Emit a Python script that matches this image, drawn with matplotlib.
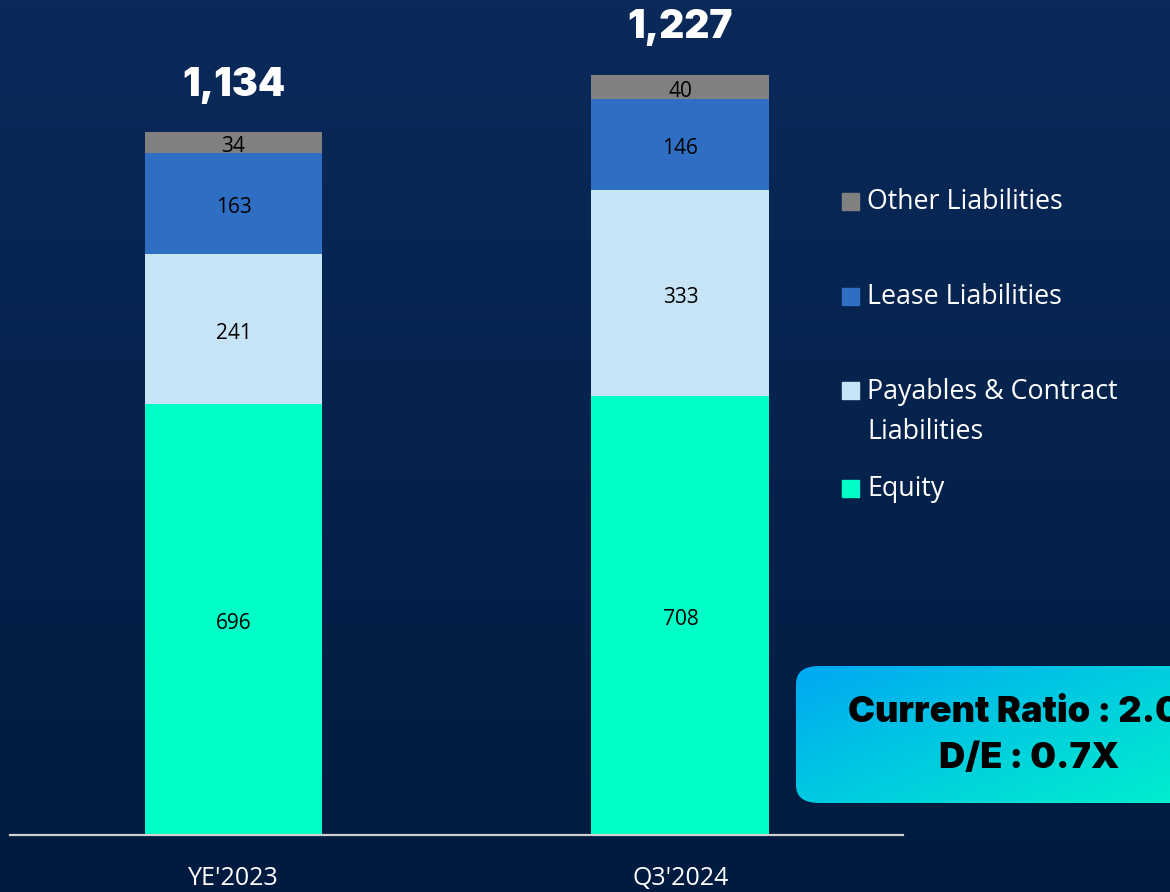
import numpy as np
import matplotlib
matplotlib.use("Agg")
import matplotlib.pyplot as plt
from matplotlib.patches import FancyBboxPatch, Rectangle
from matplotlib import font_manager as fm

categories = ["YE'2023", "Q3'2024"]
equity = [696, 708]
payables = [241, 333]
lease = [163, 146]
other = [34, 40]
totals = ["1,134", "1,227"]
legend_labels = ["Other Liabilities", "Lease Liabilities", "Payables & Contract\nLiabilities", "Equity"]
box_lines = ["Current Ratio : 2.0X", "D/E : 0.7X"]

colors = ["#00FFC6", "#C6E4F6", "#2F6FC3", "#808080"]

avail = {f.name for f in fm.fontManager.ttflist}
main_font = "Open Sans" if "Open Sans" in avail else "DejaVu Sans"
bold_font = "Inter" if "Inter" in avail else main_font

W, H = 1170, 892
fig = plt.figure(figsize=(W / 100, H / 100), dpi=100)

# background gradient
bg = fig.add_axes([0, 0, 1, 1], zorder=0)
bg.set_axis_off()
top = np.array([0x0B, 0x2A, 0x5A]) / 255
bot = np.array([0x00, 0x1B, 0x3F]) / 255
t = np.linspace(0, 1, 256)[:, None]
grad = top[None, :] * (1 - t) + bot[None, :] * t
grad = np.repeat(grad[:, None, :], 2, axis=1)
bg.imshow(grad, aspect="auto", extent=[0, 1, 0, 1], origin="upper")

ax = fig.add_axes([10 / W, (H - 835) / H, 893 / W, 835 / H], zorder=2)
ax.set_facecolor("none")
x = np.arange(len(categories))
width = 0.398
series = [equity, payables, lease, other]
bottom = np.zeros(len(categories))
for vals, col in zip(series, colors):
    vals = np.array(vals)
    ax.bar(x, vals, width, bottom=bottom, color=col, edgecolor="none", zorder=2)
    for xi, b, v in zip(x, bottom, vals):
        ax.text(xi, b + v / 2 - 6.5, f"{v}", ha="center", va="center", fontsize=15,
                family=main_font, color="black", zorder=3)
    bottom = bottom + vals

for xi, tot, lab in zip(x, bottom, totals):
    ax.text(xi, tot + 76, lab, ha="center", va="center", fontsize=28,
            family=bold_font, fontweight="black", color="white")

ax.set_xlim(-0.5, 1.498)
ax.set_ylim(0, 835 / 0.6197)
for s in ["top", "right", "left"]:
    ax.spines[s].set_visible(False)
ax.spines["bottom"].set_color("#D0D0D0")
ax.spines["bottom"].set_linewidth(1.6)
ax.set_yticks([])
ax.set_xticks(x)
ax.set_xticklabels(categories, fontsize=18, family=main_font, color="white")
ax.tick_params(axis="x", length=0, pad=22)

# legend (manual, in pixel positions)
leg_colors = [colors[3], colors[2], colors[1], colors[0]]
leg_y = [202, 297, 412, 489]
for label, col, ypix in zip(legend_labels, leg_colors, leg_y):
    sq_y = ypix if "\n" not in label else 391
    fig.patches.append(Rectangle((842 / W, (H - sq_y - 8) / H), 17 / W, 17 / H,
                                 transform=fig.transFigure, color=col, zorder=3))
    fig.text(867 / W, (H - ypix) / H, label, ha="left", va="center", fontsize=19.3,
             family=main_font, color="white", linespacing=1.6, zorder=3)

# gradient callout box
bx0, by0, bx1, by1 = 796, 666, 1290, 803
box = FancyBboxPatch((bx0 / W, (H - by1) / H), (bx1 - bx0) / W, (by1 - by0) / H,
                     boxstyle="round,pad=0,rounding_size=0.02",
                     transform=fig.transFigure, facecolor="none", edgecolor="none",
                     zorder=4)
fig.patches.append(box)
gx = np.linspace(0, 1, 200)[None, :]
gy = np.linspace(0, 1, 80)[:, None]
s = np.clip(0.6 * gx + 0.4 * gy, 0, 1)
c0 = np.array([0x00, 0xA8, 0xF2]) / 255
c1 = np.array([0x00, 0xFA, 0xC8]) / 255
img = c0[None, None, :] * (1 - s[..., None]) + c1[None, None, :] * s[..., None]
im = bg.imshow(img, extent=[bx0 / W, bx1 / W, (H - by1) / H, (H - by0) / H],
               origin="upper", aspect="auto", zorder=5)
im.set_clip_path(box)
bg.set_xlim(0, 1)
bg.set_ylim(0, 1)
fig.text(1029 / W, (H - 713) / H, box_lines[0], ha="center", va="center",
         fontsize=26, family=bold_font, fontweight="black", color="black", zorder=6)
fig.text(1029 / W, (H - 758) / H, box_lines[1], ha="center", va="center",
         fontsize=26, family=bold_font, fontweight="black", color="black", zorder=6)

fig.savefig("out.png", dpi=100)
